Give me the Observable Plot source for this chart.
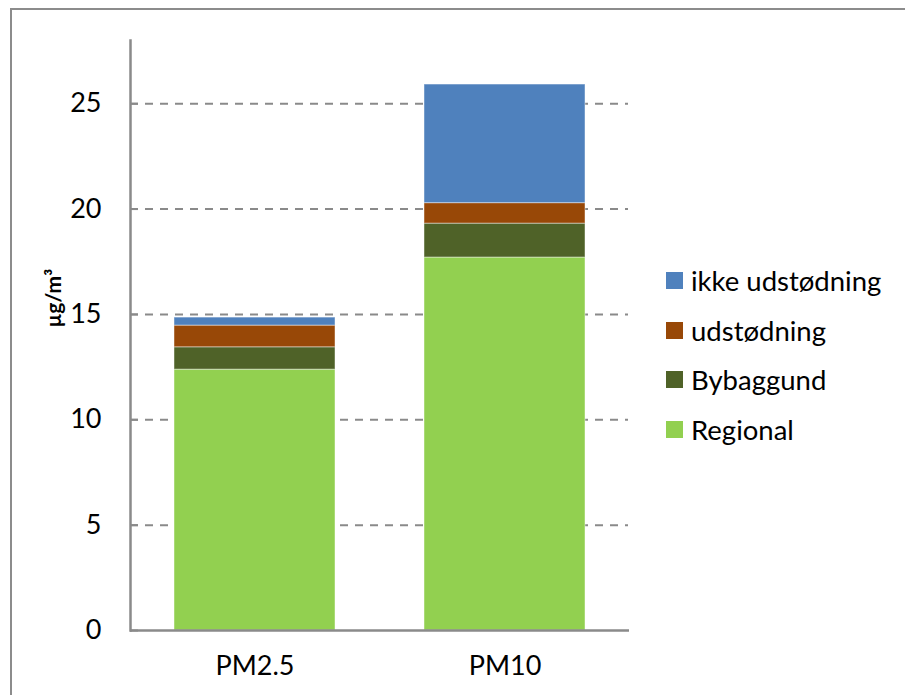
<!DOCTYPE html>
<html>
<head>
<meta charset="utf-8">
<script src="https://cdn.jsdelivr.net/npm/d3@7"></script>
<script src="https://cdn.jsdelivr.net/npm/@observablehq/plot@0.6"></script>
<style>
  html, body { margin: 0; padding: 0; background: #fff; }
  #wrap { position: relative; width: 905px; height: 695px; overflow: hidden; font-family: Lato, "Open Sans", sans-serif; }
  #frame { position: absolute; left: 10px; top: 8px; width: 1200px; height: 1200px; border: 2px solid #8c8c8c; box-sizing: border-box; pointer-events: none; }
  #chart { position: absolute; left: 0; top: 0; }
  #legend { position: absolute; left: 666px; top: 256px; }
  .row { display: flex; align-items: center; height: 49.5px; font-size: 27.5px; color: #000; }
  .sw { width: 17px; height: 17px; margin-right: 8px; flex: none; }
</style>
</head>
<body>
<div id="wrap">
  <div id="chart"></div>
  <div id="frame"></div>
  <div id="legend"></div>
</div>
<script>
const categories = ["PM2.5", "PM10"];
const series = ["Regional", "Bybaggund", "udstødning", "ikke udstødning"];
const regional = [12.38, 17.70];
const bybaggund = [1.06, 1.61];
const udstodning = [1.03, 0.97];
const ikkeUdstodning = [0.38, 5.63];
const seriesColors = ["#92D050", "#4F6228", "#984807", "#4F81BD"];
const yTicks = [0, 5, 10, 15, 20, 25];
const yTitle = "µg/m³";

const valuesBySeries = [regional, bybaggund, udstodning, ikkeUdstodning];
const data = [];
series.forEach((s, i) => {
  categories.forEach((c, j) => {
    data.push({category: c, series: s, value: valuesBySeries[i][j]});
  });
});

const font = "Lato, 'Open Sans', sans-serif";

const chart = Plot.plot({
  width: 905,
  height: 695,
  marginLeft: 130,
  marginRight: 276,
  marginTop: 40,
  marginBottom: 65,
  style: {fontFamily: font, background: "transparent"},
  x: {domain: categories, paddingInner: 0.356, paddingOuter: 0.176, label: null},
  y: {domain: [0, 28], label: null},
  color: {domain: series, range: seriesColors},
  marks: [
    Plot.gridY(yTicks.filter(d => d > 0), {stroke: "#8a8a8a", strokeOpacity: 1, strokeWidth: 2, strokeDasharray: "8,7", insetRight: 1}),
    Plot.barY(data, Plot.stackY({x: "category", y: "value", fill: "series", order: null, stroke: "#ffffff", strokeOpacity: 0.45, strokeWidth: 1})),
    Plot.axisY(yTicks, {tickSize: 0, tickPadding: 29, fontSize: 27, label: null, fill: "#000"}),
    Plot.tickY(yTicks, {stroke: "#8a8a8a", strokeWidth: 2, insetRight: 491}),
    Plot.axisX({tickSize: 0, tickPadding: 25, fontSize: 27, label: null, fill: "#000"}),
    Plot.ruleY([0], {stroke: "#8a8a8a", strokeWidth: 2.5}),
    Plot.frame({anchor: "left", stroke: "#8a8a8a", strokeWidth: 2.5}),
    Plot.text([yTitle], {frameAnchor: "left", dx: -76, dy: -8, rotate: -90, fontSize: 21, fontWeight: "bold", fill: "#000"})
  ]
});
document.getElementById("chart").appendChild(chart);

const legend = document.getElementById("legend");
series.slice().reverse().forEach((s) => {
  const i = series.indexOf(s);
  const row = document.createElement("div");
  row.className = "row";
  const sw = document.createElement("div");
  sw.className = "sw";
  sw.style.background = seriesColors[i];
  const t = document.createElement("span");
  t.textContent = s;
  row.appendChild(sw);
  row.appendChild(t);
  legend.appendChild(row);
});
</script>
</body>
</html>
